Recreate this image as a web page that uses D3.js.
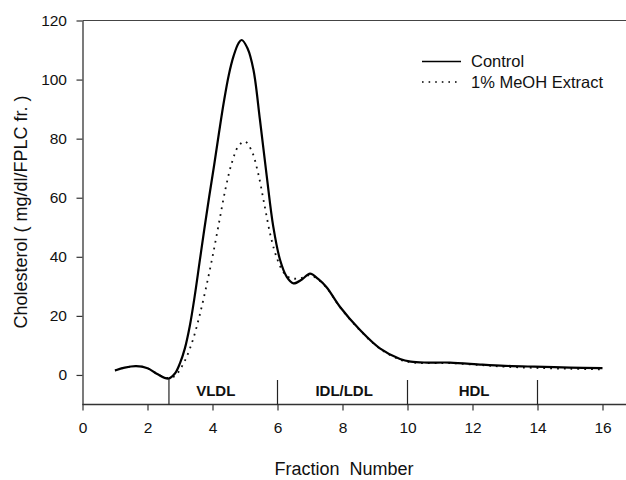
<!DOCTYPE html>
<html>
<head>
<meta charset="utf-8">
<script src="https://cdn.jsdelivr.net/npm/d3@7"></script>
<style>
  html, body { margin: 0; padding: 0; background: #fff; }
  svg { display: block; font-family: "Liberation Sans", Arial, sans-serif; }
</style>
</head>
<body>
<svg id="chart" width="626" height="480"></svg>
<script>
// ---- data ----
const controlX = [1.0, 1.3, 1.65, 2.0, 2.3, 2.64, 2.85, 3.0, 3.15, 3.3, 3.45, 3.6, 3.75, 3.9, 4.05, 4.2, 4.35, 4.5, 4.65, 4.8, 4.9, 5.08, 5.26, 5.46, 5.67, 5.87, 6.08, 6.28, 6.49, 6.75, 7.0, 7.25, 7.51, 7.92, 8.54, 9.15, 9.77, 10.1, 10.6, 11.3, 12.3, 13.0, 13.9, 15.0, 16.0];
const controlY = [1.5, 2.5, 3.0, 2.3, 0.3, -1.2, 0.6, 4.0, 9.0, 16.5, 26.5, 38.0, 49.5, 60.5, 71.0, 82.0, 92.5, 101.5, 108.0, 112.3, 113.4, 110.5, 103.3, 86.4, 67.2, 50.2, 38.9, 33.3, 31.0, 32.3, 34.3, 32.5, 29.7, 23.1, 15.2, 9.0, 5.4, 4.5, 4.2, 4.2, 3.5, 3.1, 2.8, 2.5, 2.3];

const extractX = [1.0, 1.3, 1.65, 2.0, 2.3, 2.6, 2.85, 3.0, 3.2, 3.4, 3.6, 3.8, 4.0, 4.2, 4.4, 4.6, 4.8, 5.0, 5.2, 5.4, 5.6, 5.8, 6.0, 6.2, 6.4, 6.6, 6.8, 7.0, 7.25, 7.51, 7.92, 8.54, 9.15, 9.77, 10.1, 10.6, 11.3, 12.3, 13.0, 13.9, 15.0, 16.0];
const extractY = [1.5, 2.5, 3.0, 2.3, 0.4, -1.0, -0.3, 1.8, 6.0, 12.0, 20.0, 29.5, 40.0, 51.5, 63.0, 72.0, 77.5, 79.0, 76.0, 68.5, 57.5, 46.5, 39.0, 34.5, 32.8, 32.6, 33.0, 33.8, 32.3, 29.6, 23.0, 15.1, 8.9, 5.2, 4.3, 4.0, 4.0, 3.3, 2.8, 2.4, 2.1, 1.9];

const seriesNames = ["Control", "1% MeOH Extract"];
const xTicks = [0, 2, 4, 6, 8, 10, 12, 14, 16];
const yTicks = [0, 20, 40, 60, 80, 100, 120];
const dividers = [2.66, 6, 10, 14];
const regionNames = ["VLDL", "IDL/LDL", "HDL"];
const regionCenters = [4.1, 8.05, 12.05];

// ---- layout ----
const svg = d3.select("#chart");
const W = 626;
const x = d3.scaleLinear().domain([0, 16.8]).range([82.5, 82.5 + 32.5 * 16.8]);
const y = d3.scaleLinear().domain([-10, 120]).range([404.5, 20.5]);

// top frame line
svg.append("line")
  .attr("x1", x(0)).attr("x2", W)
  .attr("y1", y(120)).attr("y2", y(120))
  .attr("stroke", "#444").attr("stroke-width", 1.2);

// x axis
const xAxis = svg.append("g")
  .attr("transform", `translate(0,${y(-10)})`)
  .call(d3.axisBottom(x).tickValues(xTicks).tickSize(6).tickSizeOuter(0).tickPadding(11));
xAxis.select(".domain").remove();
xAxis.append("line").attr("x1", x(0)).attr("x2", W).attr("y1", 0).attr("y2", 0)
  .attr("stroke", "#333").attr("stroke-width", 1.3);
xAxis.selectAll(".tick line").attr("stroke", "#333").attr("stroke-width", 1.2);
xAxis.selectAll(".tick text").attr("font-size", 15.5).attr("fill", "#111")
  .attr("font-family", "Liberation Sans, Arial, sans-serif");

// y axis
const yAxis = svg.append("g")
  .attr("transform", `translate(${x(0)},0)`)
  .call(d3.axisLeft(y).tickValues(yTicks).tickSize(6).tickSizeOuter(0).tickPadding(9.5));
yAxis.select(".domain").attr("stroke", "#333").attr("stroke-width", 1.3);
yAxis.selectAll(".tick line").attr("stroke", "#333").attr("stroke-width", 1.2);
yAxis.selectAll(".tick text").attr("font-size", 15.5).attr("fill", "#111")
  .attr("font-family", "Liberation Sans, Arial, sans-serif");

// region dividers
svg.append("g").selectAll("line").data(dividers).enter().append("line")
  .attr("x1", d => x(d)).attr("x2", d => x(d))
  .attr("y1", (d, i) => i === 0 ? y(-1.3) : y(-1.7))
  .attr("y2", y(-10))
  .attr("stroke", "#222").attr("stroke-width", 1.2);

// region labels
svg.append("g").selectAll("text").data(regionNames).enter().append("text")
  .attr("x", (d, i) => x(regionCenters[i]))
  .attr("y", 396)
  .attr("text-anchor", "middle")
  .attr("font-size", 15).attr("font-weight", "bold").attr("fill", "#111")
  .text(d => d);

// curves
const line = d3.line().x(d => x(d[0])).y(d => y(d[1])).curve(d3.curveCatmullRom.alpha(0.5));
const controlPts = controlX.map((v, i) => [v, controlY[i]]);
const extractPts = extractX.map((v, i) => [v, extractY[i]]);

svg.append("path").datum(extractPts).attr("d", line)
  .attr("fill", "none").attr("stroke", "#111").attr("stroke-width", 1.8)
  .attr("stroke-dasharray", "1.8,5");
svg.append("path").datum(controlPts).attr("d", line)
  .attr("fill", "none").attr("stroke", "#000").attr("stroke-width", 2.2)
  .attr("stroke-linejoin", "round");

// legend
const legend = svg.append("g");
const legRows = [
  { name: seriesNames[0], dash: null, w: 1.6, ly: 61.5 },
  { name: seriesNames[1], dash: "1.6,5", w: 1.6, ly: 82 }
];
legRows.forEach(r => {
  const l = legend.append("line")
    .attr("x1", 422).attr("x2", 461).attr("y1", r.ly).attr("y2", r.ly)
    .attr("stroke", "#000").attr("stroke-width", r.w);
  if (r.dash) l.attr("stroke-dasharray", r.dash);
  legend.append("text").attr("x", 471).attr("y", r.ly + 5.8)
    .attr("font-size", 16.5).attr("fill", "#111").text(r.name);
});

// axis titles
svg.append("text")
  .attr("x", 344).attr("y", 475)
  .attr("text-anchor", "middle").attr("font-size", 18).attr("fill", "#111")
  .style("white-space", "pre")
  .text("Fraction  Number");

svg.append("text")
  .attr("transform", "translate(27,212) rotate(-90)")
  .attr("text-anchor", "middle").attr("font-size", 18).attr("fill", "#111")
  .text("Cholesterol ( mg/dl/FPLC fr. )");
</script>
</body>
</html>
